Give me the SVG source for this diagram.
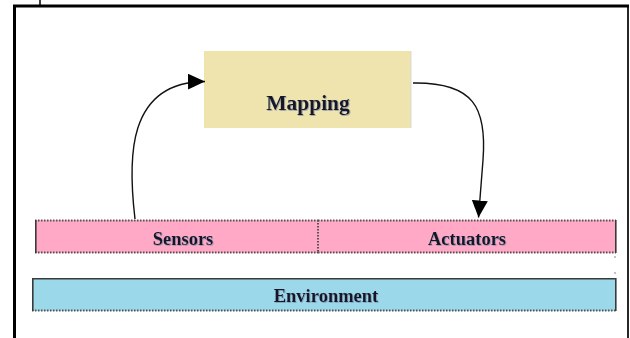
<svg xmlns="http://www.w3.org/2000/svg" width="630" height="338" viewBox="0 0 630 338">
  <defs>
    <style>
      .lbl { font-family: "Liberation Serif", "Times New Roman", serif; font-weight: bold; fill: #141428; text-anchor: middle; filter: url(#soft); }
      .edge { fill: none; stroke: #111; stroke-width: 1.4; }
      .solid { stroke: #3a3a3a; stroke-width: 1.6; }
      .dots { stroke: #555; stroke-width: 2; stroke-dasharray: 1.5 1.5; }
    </style>
    <filter id="soft" x="-10%" y="-30%" width="120%" height="160%">
      <feDropShadow dx="0.8" dy="0.8" stdDeviation="0.6" flood-color="#7a8aa8" flood-opacity="0.8"/>
    </filter>
    <marker id="arrow" markerUnits="userSpaceOnUse" markerWidth="18" markerHeight="16" refX="17" refY="8" orient="auto">
      <path d="M0,0 L17,8 L0,16 Z" fill="#000"/>
    </marker>
  </defs>

  <!-- page frame -->
  <g id="frame" fill="none" stroke="#000">
    <path d="M14.5,338 L14.5,6 L629,6" stroke-width="3"/>
    <line x1="628" y1="5" x2="628" y2="338" stroke-width="1.7"/>
    <line x1="40" y1="0" x2="40" y2="5" stroke-width="1.5"/>
  </g>

  <!-- controller -->
  <g id="mapping">
    <rect x="204" y="51" width="207" height="77" fill="#efe3ae"/>
    <line x1="411" y1="51" x2="411" y2="128" stroke="#d9d9d9" stroke-width="1"/>
    <text class="lbl" x="308" y="110" font-size="21.5">Mapping</text>
  </g>

  <!-- sensing / acting layer -->
  <g id="sensors">
    <rect x="35" y="220" width="283" height="33" fill="#ffa9c6"/>
    <line class="dots" x1="35" y1="220.5" x2="318" y2="220.5"/>
    <line class="dots" x1="35" y1="252.5" x2="318" y2="252.5"/>
    <line class="solid" x1="35.8" y1="220" x2="35.8" y2="253"/>
    <text class="lbl" x="183" y="244.5" font-size="18.5">Sensors</text>
  </g>
  <g id="actuators">
    <rect x="318" y="220" width="298" height="33" fill="#ffa9c6"/>
    <line class="dots" x1="318" y1="220.5" x2="616" y2="220.5"/>
    <line class="dots" x1="318" y1="252.5" x2="616" y2="252.5"/>
    <line class="dots" x1="318" y1="220" x2="318" y2="253" stroke-width="1.5"/>
    <line class="solid" x1="615.8" y1="220" x2="615.8" y2="253"/>
    <line x1="615" y1="256" x2="615" y2="258" stroke="#888" stroke-width="1"/>
    <text class="lbl" x="467" y="244.5" font-size="18.5">Actuators</text>
  </g>

  <!-- world -->
  <g id="environment">
    <rect x="32" y="278" width="584" height="33" fill="#9bd9ea"/>
    <line class="solid" x1="32" y1="278.8" x2="616" y2="278.8"/>
    <line class="dots" x1="32" y1="310.5" x2="616" y2="310.5"/>
    <line class="solid" x1="32.8" y1="278" x2="32.8" y2="311"/>
    <line class="solid" x1="615.8" y1="278" x2="615.8" y2="311"/>
    <line x1="615" y1="272" x2="615" y2="274" stroke="#888" stroke-width="1"/>
    <text class="lbl" x="326" y="302" font-size="18.5">Environment</text>
  </g>

  <!-- connectors -->
  <g id="connectors">
    <path class="edge" d="M135,219 C128,160 126,82 205,81.5" marker-end="url(#arrow)"/>
    <path class="edge" d="M413,83 C474,82 487,108 483,160 L478.5,217.5" marker-end="url(#arrow)"/>
  </g>
</svg>
